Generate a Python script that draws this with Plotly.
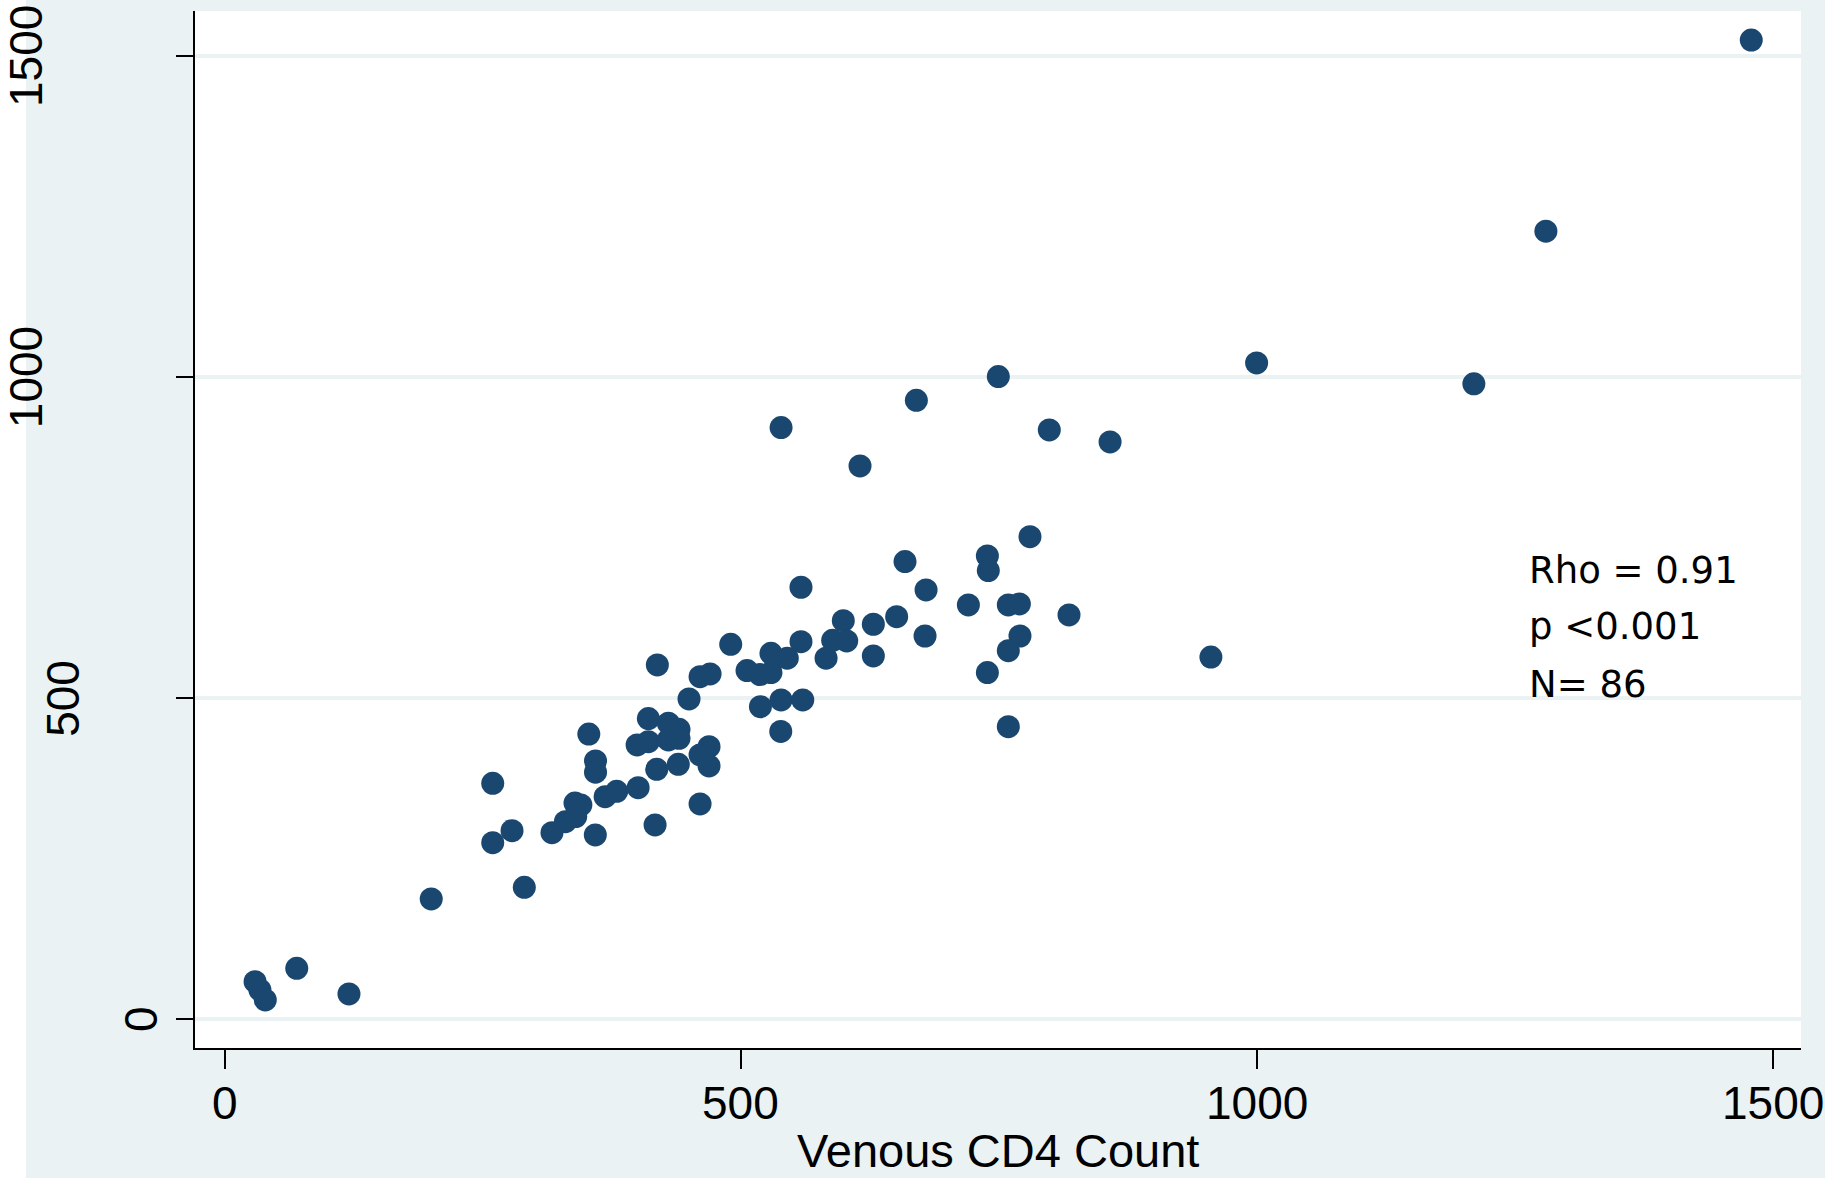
import plotly.graph_objects as go

# ---- data ----
venous_cd4 = [29.3, 34, 39.2, 69.7, 120.3, 200, 259.6, 259.6, 278.3, 290.2,
              317, 330, 339.3, 345, 340, 359, 352.7, 359.2, 359.2, 368.5,
              379.7, 400.5, 416.9, 399.5, 410.4, 410.4, 429.8, 440.1, 429.8, 440.1,
              418.5, 439.4, 460.5, 469.2, 469.2, 460.5, 449.8, 419.1, 490.2, 460.5,
              470.2, 506, 518.6, 529.2, 529.2, 545, 558.3, 558.3, 519, 539,
              560, 538.7, 582.6, 589, 599.3, 602.6, 628.4, 628.4, 651, 678.5,
              659.1, 679.5, 720.5, 759.2, 769.9, 818, 770.5, 759.2, 738.9, 759.2,
              738.9, 739.8, 780.2, 539, 615.5, 670.1, 749.5, 798.9, 857.8, 955.5,
              999.8, 1210.3, 1280.1, 1479.1]
capillary_cd4 = [58.8, 46, 30.4, 79.7, 39.7, 187.6, 367.7, 275.3, 294, 205.8,
                 290.8, 308, 337, 334, 316, 287.3, 444.3, 402.5, 385, 346.9,
                 355.3, 360.9, 302.8, 427.4, 468.5, 432.5, 461.2, 451.8, 435.2, 437.8,
                 389.5, 397.3, 411.8, 424.7, 394.7, 335.5, 499, 551.9, 584.1, 533.7,
                 537.9, 543.1, 537, 540, 570, 562.4, 588.2, 672.9, 487, 497.4,
                 497.4, 448.4, 562.4, 590.3, 620.9, 589.3, 615.3, 565.9, 627.1, 597,
                 712.8, 668.7, 645.3, 645.3, 646.9, 629.8, 597, 574.2, 540, 455.9,
                 721.6, 698.8, 751.7, 921.4, 861.8, 964, 1000.8, 917.8, 899.1, 564.2,
                 1022.2, 989.6, 1227.2, 1524.7]
x_tick_vals = [0, 500, 1000, 1500]
x_tick_text = ["0", "500", "1000", "1500"]
y_tick_vals = [0, 500, 1000, 1500]
y_tick_text = ["0", "500", "1000", "1500"]
x_title = "Venous CD4 Count"
stats_lines = ["Rho = 0.91", "p <0.001", "N= 86"]

# ---- style / layout constants ----
W, H = 1825, 1178
L, R, T, B = 195, 24, 11, 130
PW, PH = W - L - R, H - T - B
BG = "#eaf2f3"
NAVY = "#1a476f"
AXFONT = "Liberation Sans, Arial, sans-serif"
Y_LABEL_CENTER_PX = {"0": 141.5, "500": 63.5, "1000": 26, "1500": 26}
X_LABEL_CENTER_Y_PX = 1103
STATS_X_PX = 1527
STATS_CENTER_Y_PX = [570, 627, 684]
X_TITLE_CENTER_Y_PX = 1150


def px_to_paper_x(px):
    return (px - L) / PW


def px_to_paper_y(py):
    return (H - B - py) / PH


fig = go.Figure()
fig.add_trace(go.Scatter(
    x=venous_cd4, y=capillary_cd4, mode="markers",
    marker=dict(size=23, color=NAVY, line=dict(width=0)),
    showlegend=False, hoverinfo="x+y",
))

annotations = []
for v, t in zip(y_tick_vals, y_tick_text):
    annotations.append(dict(
        xref="paper", yref="y", x=0, y=v, xanchor="center", yanchor="middle",
        xshift=Y_LABEL_CENTER_PX[t] - L, text=t, textangle=-90, showarrow=False,
        font=dict(family=AXFONT, size=46, color="black"),
    ))
for v, t in zip(x_tick_vals, x_tick_text):
    annotations.append(dict(
        xref="x", yref="paper", x=v, y=px_to_paper_y(X_LABEL_CENTER_Y_PX),
        xanchor="center", yanchor="middle", text=t, showarrow=False,
        font=dict(family=AXFONT, size=46, color="black"),
    ))
for line, cy in zip(stats_lines, STATS_CENTER_Y_PX):
    annotations.append(dict(
        xref="paper", yref="paper", x=px_to_paper_x(STATS_X_PX), y=px_to_paper_y(cy),
        xanchor="left", yanchor="middle", text=line, showarrow=False,
        font=dict(family="DejaVu Sans, sans-serif", size=37, color="black"),
    ))
annotations.append(dict(
    xref="paper", yref="paper", x=0.5, y=px_to_paper_y(X_TITLE_CENTER_Y_PX),
    xanchor="center", yanchor="middle", text=x_title, showarrow=False,
    font=dict(family=AXFONT, size=47, color="black"),
))

fig.update_layout(
    template="none",
    width=W, height=H,
    margin=dict(l=L, r=R, t=T, b=B, pad=0),
    paper_bgcolor=BG, plot_bgcolor="white",
    annotations=annotations,
    shapes=[dict(type="rect", xref="paper", yref="paper",
                 x0=px_to_paper_x(-5), x1=px_to_paper_x(26), y0=-1, y1=2,
                 fillcolor="white", line=dict(width=0), layer="below")],
    xaxis=dict(
        automargin=False,
        range=[-28.9, 1527.3], tickmode="array", tickvals=x_tick_vals,
        showticklabels=False,
        showgrid=False, zeroline=False, showline=True, linecolor="black", linewidth=2,
        ticks="outside", ticklen=19, tickwidth=2, tickcolor="black",
    ),
    yaxis=dict(
        automargin=False,
        range=[-44.4, 1570], tickmode="array", tickvals=y_tick_vals,
        showticklabels=False,
        showgrid=True, gridcolor=BG, gridwidth=4, zeroline=False,
        showline=True, linecolor="black", linewidth=2,
        ticks="outside", ticklen=17, tickwidth=2, tickcolor="black",
    ),
)

fig.write_html(
    "out.html",
    config={"displayModeBar": False},
    post_script="document.body.style.margin='0';document.body.style.overflow='hidden';",
)
